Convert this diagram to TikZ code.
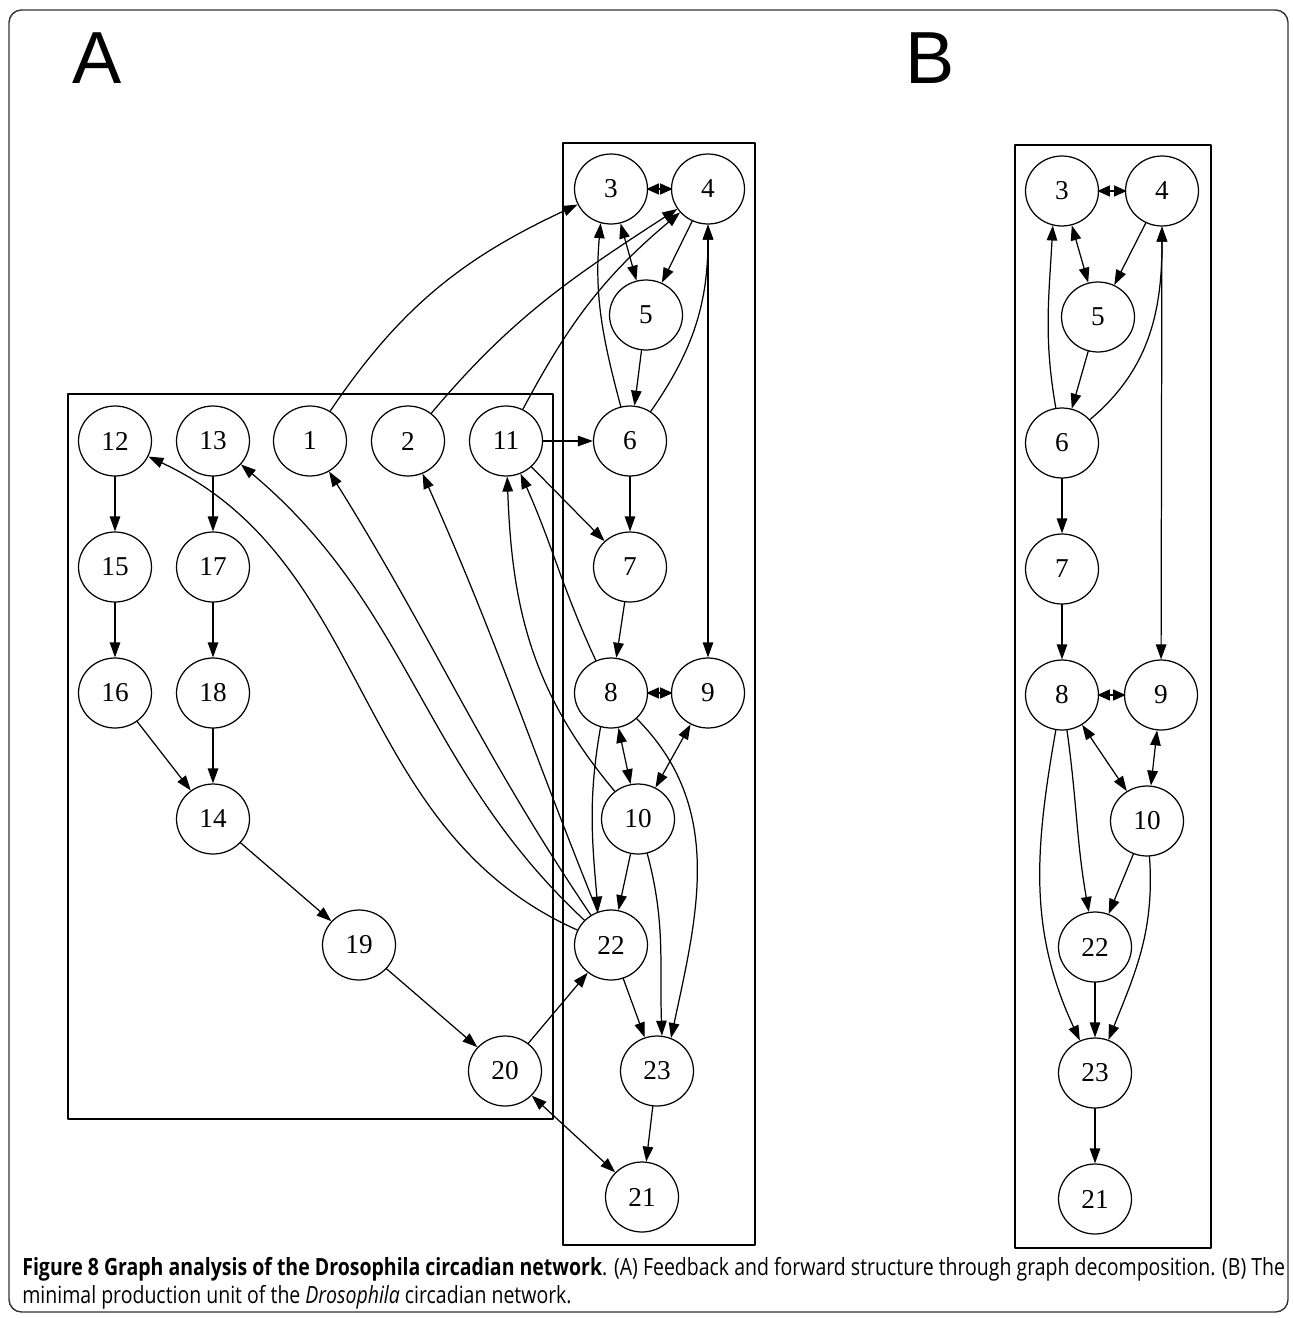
\documentclass[tikz,border=0pt]{standalone}
\usepackage{fontspec}
\setmainfont{Liberation Serif}
\newfontfamily\panelfont{Liberation Sans}
\newfontfamily\capfont{Open Sans}
\usepackage{tikz}
\usetikzlibrary{arrows.meta,shapes.geometric}
\newsavebox{\capline}

\begin{document}
\begin{tikzpicture}[line cap=round,line join=round,>={Triangle[length=0.3cm,width=0.21cm]},x=0.02cm,y=0.02cm,
        vertex/.style={ellipse,draw,line width=0.7pt,minimum width=1.46cm,minimum height=1.4cm,inner sep=0pt,font=\fontsize{15.5}{18}\selectfont},
        edge/.style={line width=0.7pt},
        pair/.style={line width=0.7pt,shorten <=-1pt,shorten >=-1pt,{Triangle[length=0.25cm,width=0.22cm]}-{Triangle[length=0.25cm,width=0.22cm]}},
        group/.style={line width=0.8pt},
        panel/.style={font=\panelfont\fontsize{42}{50}\selectfont,inner sep=0pt}]
        \useasboundingbox (0,0) rectangle (1293,-1318);
        \draw [line width=0.8pt,black!80,rounded corners=0.25cm] (9,-10) rectangle (1288,-1312);
        \node [panel] (labA) at (97,-58) {A};
        \node [panel] (labB) at (930,-58) {B};
        \draw [group] (68,-394) rectangle (553,-1119);
        \draw [group] (563,-143) rectangle (755,-1245);
        \draw [group] (1015,-145) rectangle (1211,-1248);
        \node [vertex] (a3) at (611,-189) {3};
        \node [vertex] (a4) at (708,-189) {4};
        \node [vertex] (a5) at (646,-315) {5};
        \node [vertex] (a6) at (630,-441) {6};
        \node [vertex] (a7) at (630,-567) {7};
        \node [vertex] (a8) at (611,-693) {8};
        \node [vertex] (a9) at (708,-693) {9};
        \node [vertex] (a10) at (638,-819) {10};
        \node [vertex] (a22) at (611,-945) {22};
        \node [vertex] (a23) at (657,-1071) {23};
        \node [vertex] (a21) at (642,-1197) {21};
        \node [vertex] (a12) at (115,-441) {12};
        \node [vertex] (a13) at (213,-441) {13};
        \node [vertex] (a1) at (310,-441) {1};
        \node [vertex] (a2) at (408,-441) {2};
        \node [vertex] (a11) at (506,-441) {11};
        \node [vertex] (a15) at (115,-567) {15};
        \node [vertex] (a17) at (213,-567) {17};
        \node [vertex] (a16) at (115,-693) {16};
        \node [vertex] (a18) at (213,-693) {18};
        \node [vertex] (a14) at (213,-819) {14};
        \node [vertex] (a19) at (359,-945) {19};
        \node [vertex] (a20) at (505,-1071) {20};
        \node [vertex] (b3) at (1062,-191) {3};
        \node [vertex] (b4) at (1162,-191) {4};
        \node [vertex] (b5) at (1098,-317) {5};
        \node [vertex] (b6) at (1062,-443) {6};
        \node [vertex] (b7) at (1062,-569) {7};
        \node [vertex] (b8) at (1062,-695) {8};
        \node [vertex] (b9) at (1161,-695) {9};
        \node [vertex] (b10) at (1147,-821) {10};
        \node [vertex] (b22) at (1095,-947) {22};
        \node [vertex] (b23) at (1095,-1073) {23};
        \node [vertex] (b21) at (1095,-1199) {21};
        \draw [->,edge] (a1) to[out=56,in=205] (a3);
        \draw [->,edge] (a2) to[out=50,in=213] (a4);
        \draw [->,edge] (a11) to[out=62,in=220] (a4);
        \draw [pair] (a3) -- (a4);
        \draw [<->,edge] (a3) -- (a5);
        \draw [->,edge] (a4) -- (a5);
        \draw [->,edge] (a5) -- (a6);
        \draw [->,edge] (a6.105) to[out=105,in=-95] (a3.-107);
        \draw [->,edge] (a6) to[out=55,in=-90] (a4);
        \draw [<->,edge] (a4) -- (a9);
        \draw [->,edge] (a11) -- (a6);
        \draw [->,edge] (a11) -- (a7);
        \draw [->,edge] (a6) -- (a7);
        \draw [->,edge] (a7) -- (a8);
        \draw [pair] (a8) -- (a9);
        \draw [<->,edge] (a8) -- (a10);
        \draw [<->,edge] (a9) -- (a10);
        \draw [->,edge] (a8) to[out=115,in=-66] (a11);
        \draw [->,edge] (a10) to[out=130,in=-88] (a11);
        \draw [->,edge] (a8.-107) to[out=-100,in=95] (a22.111);
        \draw [->,edge] (a8) to[out=-45,in=78] (a23.67);
        \draw [->,edge] (a10) -- (a22);
        \draw [->,edge] (a10) to[out=-75,in=92] (a23.82);
        \draw [->,edge] (a22) -- (a23);
        \draw [->,edge] (a23) -- (a21);
        \draw [<->,edge] (a20) -- (a21);
        \draw [->,edge] (a20) -- (a22);
        \draw [->,edge] (a22) to[out=156,in=-25] (a12);
        \draw [->,edge] (a22) to[out=137,in=-40] (a13);
        \draw [->,edge] (a22) to[out=124,in=-58] (a1);
        \draw [->,edge] (a22) to[out=112,in=-66] (a2);
        \draw [->,edge] (a12) -- (a15);
        \draw [->,edge] (a15) -- (a16);
        \draw [->,edge] (a13) -- (a17);
        \draw [->,edge] (a17) -- (a18);
        \draw [->,edge] (a16) -- (a14);
        \draw [->,edge] (a18) -- (a14);
        \draw [->,edge] (a14) -- (a19);
        \draw [->,edge] (a19) -- (a20);
        \draw [pair] (b3) -- (b4);
        \draw [<->,edge] (b3) -- (b5);
        \draw [->,edge] (b4) -- (b5);
        \draw [->,edge] (b5) -- (b6);
        \draw [->,edge] (b6.100) to[out=100,in=-93] (b3.-105);
        \draw [->,edge] (b6) to[out=40,in=-90] (b4);
        \draw [<->,edge] (b4) -- (b9);
        \draw [->,edge] (b6) -- (b7);
        \draw [->,edge] (b7) -- (b8);
        \draw [pair] (b8) -- (b9);
        \draw [<->,edge] (b8) -- (b10);
        \draw [<->,edge] (b9) -- (b10);
        \draw [->,edge] (b8) to[out=-82,in=100] (b22);
        \draw [->,edge] (b8) to[out=-100,in=115] (b23);
        \draw [->,edge] (b10) -- (b22);
        \draw [->,edge] (b10) to[out=-86,in=68] (b23);
        \draw [->,edge] (b22) -- (b23);
        \draw [->,edge] (b23) -- (b21);
        \node [anchor=base west,inner sep=0pt] (capA) at (22,-1275) {\capfont\fontsize{13.5}{16}\selectfont\sbox{\capline}{\textbf{Figure 8 Graph analysis of the Drosophila circadian network}. (A) Feedback and forward structure through graph decomposition. (B) The}\pgfmathsetmacro{\capscale}{25.26cm/(\the\wd\capline)}\global\let\capscaleg\capscale\scalebox{\capscale}[1]{\usebox{\capline}}};
        \node [anchor=base west,inner sep=0pt] (capB) at (22,-1303) {\scalebox{\capscaleg}[1]{\capfont\fontsize{13.5}{16}\selectfont minimal production unit of the \textit{Drosophila} circadian network.}};
\end{tikzpicture}
\end{document}
